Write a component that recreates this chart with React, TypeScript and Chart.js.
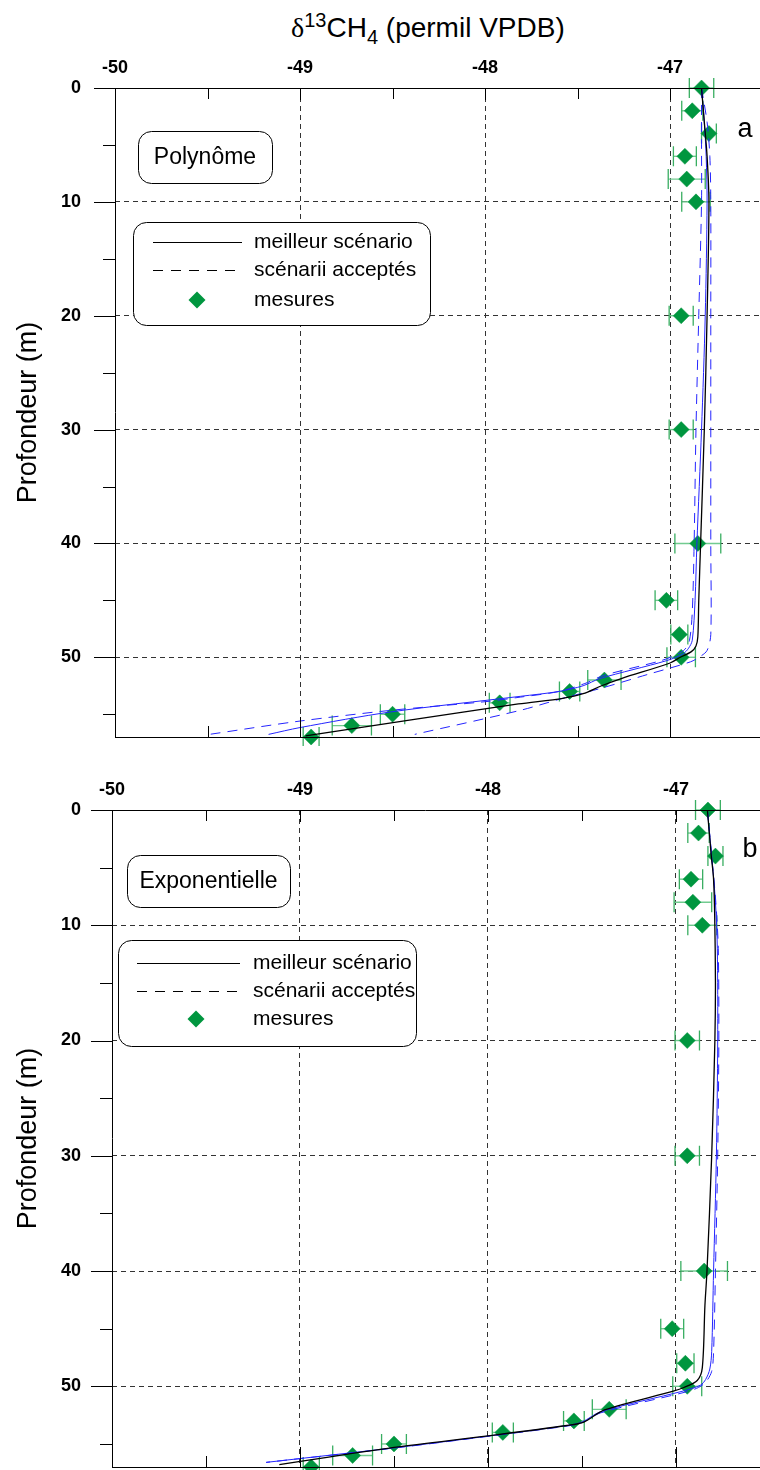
import React, { useEffect, useRef } from "react";
import { Chart, registerables } from "chart.js";

Chart.register(...registerables);

const FONT = "'Liberation Sans', Arial, Helvetica, sans-serif";
Chart.defaults.font.family = FONT;

// ---------- measurements (same in both panels) ----------
const measureDepth = [0, 2, 4, 6, 8, 10, 20, 30, 40, 45, 48, 50, 52, 53, 54, 55, 56, 57];
const measureValue = [-46.83, -46.88, -46.79, -46.92, -46.91, -46.86, -46.94, -46.94, -46.85, -47.02, -46.95, -46.94, -47.355, -47.543, -47.921, -48.5, -48.72, -48.94];
const measureError = [0.066, 0.057, 0.04, 0.062, 0.1, 0.077, 0.065, 0.065, 0.124, 0.061, 0.046, 0.077, 0.09, 0.055, 0.056, 0.066, 0.106, 0.043];

// ---------- panel a : Polynôme ----------
const polyBestDepth = [0, 3, 6, 10, 20, 30, 40, 45, 48.2, 49, 49.5, 50, 50.5, 51.85, 52.5, 53.2, 53.6, 54.1, 55.5, 56.9];
const polyBestValue = [-46.83, -46.815, -46.8, -46.79, -46.8, -46.815, -46.835, -46.845, -46.85, -46.86, -46.885, -46.945, -47.0, -47.26, -47.37, -47.47, -47.58, -47.82, -48.4, -48.97];
const polyAcc1Depth = [0, 3, 6, 10, 20, 30, 40, 45, 48.5, 49.2, 49.7, 50.3, 51.87, 52.5, 53.0, 53.43, 54.8, 56.17, 56.77];
const polyAcc1Value = [-46.83, -46.815, -46.805, -46.8, -46.81, -46.83, -46.855, -46.865, -46.88, -46.9, -46.93, -47.02, -47.38, -47.47, -47.6, -47.81, -48.51, -49.0, -49.17];
const polyAcc2Depth = [0, 5, 10, 20, 30, 40, 46, 48.5, 49.3, 49.8, 50.3, 51.6, 52.3, 53.0, 53.5, 53.9, 54.66, 55.6, 56.77];
const polyAcc2Value = [-46.83, -46.83, -46.83, -46.845, -46.86, -46.87, -46.88, -46.895, -46.92, -46.97, -47.05, -47.36, -47.46, -47.6, -47.81, -48.0, -48.51, -49.0, -49.49];
const polyAcc3Depth = [0, 3, 6, 10, 20, 30, 40, 48, 49.4, 49.96, 50.4, 51.5, 52.75, 53.6, 54.66, 56.77];
const polyAcc3Value = [-46.83, -46.8, -46.785, -46.78, -46.78, -46.78, -46.78, -46.78, -46.8, -46.84, -46.89, -47.12, -47.38, -47.58, -47.81, -48.38];

// ---------- panel b : Exponentielle ----------
const expoBestDepth = [0, 4, 6, 9.2, 15, 20, 30, 40, 43, 48.4, 49.5, 50.1, 50.4, 52.05, 53.1, 53.4, 54.3, 55.3, 56.8];
const expoBestValue = [-46.833, -46.812, -46.8, -46.794, -46.79, -46.793, -46.81, -46.835, -46.846, -46.86, -46.887, -46.958, -47.01, -47.38, -47.49, -47.58, -48.0, -48.5, -49.11];
const expoAcc1Depth = [0, 4, 8, 12, 20, 30, 40, 47, 48.5, 49.4, 49.9, 50.4, 52.2, 53.1, 53.4, 54.3, 55.3, 56.6];
const expoAcc1Value = [-46.833, -46.81, -46.79, -46.78, -46.778, -46.785, -46.8, -46.81, -46.82, -46.842, -46.87, -46.96, -47.4, -47.5, -47.58, -47.99, -48.48, -49.18];
const expoAcc2Depth = [0, 4, 8, 12, 20, 30, 40, 47, 48.7, 49.6, 50.1, 50.5, 52.3, 53.15, 53.45, 54.3, 55.3, 56.6];
const expoAcc2Value = [-46.833, -46.81, -46.788, -46.775, -46.772, -46.778, -46.79, -46.8, -46.81, -46.84, -46.88, -46.95, -47.4, -47.5, -47.58, -47.98, -48.47, -49.18];

// ---------- axes ----------
const xMajorTicks = [-49, -48, -47];
const xMinorTicks = [-49.5, -48.5, -47.5];
const depthMajorTicks = [10, 20, 30, 40, 50];
const depthMinorTicks = [5, 15, 25, 35, 45, 55];
const legendLabels = ["meilleur scénario", "scénarii acceptés", "mesures"];

const GREEN = "#00963f";
const BLUE = "#2424ff";

type Curve = { depth: number[]; value: number[]; color: string; dash: number[]; width: number };

type Layout = {
  canvasTop: number;
  canvasHeight: number;
  areaLeft: number;
  areaTop: number;
  bottomPad: number;
  xMax: number;
  boxLabel: { text: string; x: number; y: number; w: number; h: number };
  legend: { x: number; y: number; w: number; h: number; lx1: number; lx2: number; tx: number; rows: number[]; dx: number };
  letter: { text: string; x: number; y: number };
};

const layoutA: Layout = {
  canvasTop: 0,
  canvasHeight: 746,
  areaLeft: 115,
  areaTop: 88,
  bottomPad: 9,
  xMax: -46.514,
  boxLabel: { text: "Polynôme", x: 138, y: 131, w: 134, h: 52 },
  legend: { x: 133, y: 222, w: 297, h: 103, lx1: 153, lx2: 242, tx: 254, rows: [242, 270, 300], dx: 197 },
  letter: { text: "a", x: 745, y: 130 },
};

const layoutB: Layout = {
  canvasTop: 746,
  canvasHeight: 724,
  areaLeft: 112,
  areaTop: 64,
  bottomPad: 3,
  xMax: -46.553,
  boxLabel: { text: "Exponentielle", x: 127, y: 855, w: 163, h: 52 },
  legend: { x: 118, y: 940, w: 298, h: 106, lx1: 137, lx2: 240, tx: 253, rows: [963, 991, 1019], dx: 196 },
  letter: { text: "b", x: 750, y: 850 },
};

const curvesA: Curve[] = [
  { depth: polyBestDepth, value: polyBestValue, color: "#000", dash: [], width: 1.3 },
  { depth: polyAcc1Depth, value: polyAcc1Value, color: BLUE, dash: [], width: 1 },
  { depth: polyAcc2Depth, value: polyAcc2Value, color: BLUE, dash: [10, 7], width: 1 },
  { depth: polyAcc3Depth, value: polyAcc3Value, color: BLUE, dash: [10, 7], width: 1 },
];

const curvesB: Curve[] = [
  { depth: expoBestDepth, value: expoBestValue, color: "#000", dash: [], width: 1.3 },
  { depth: expoAcc1Depth, value: expoAcc1Value, color: BLUE, dash: [], width: 1 },
  { depth: expoAcc2Depth, value: expoAcc2Value, color: BLUE, dash: [10, 7], width: 1 },
];

function xy(depth: number[], value: number[]) {
  return depth.map((d, i) => ({ x: value[i], y: d }));
}

function roundRect(ctx: CanvasRenderingContext2D, x: number, y: number, w: number, h: number, r: number) {
  ctx.beginPath();
  ctx.moveTo(x + r, y);
  ctx.lineTo(x + w - r, y);
  ctx.arcTo(x + w, y, x + w, y + r, r);
  ctx.lineTo(x + w, y + h - r);
  ctx.arcTo(x + w, y + h, x + w - r, y + h, r);
  ctx.lineTo(x + r, y + h);
  ctx.arcTo(x, y + h, x, y + h - r, r);
  ctx.lineTo(x, y + r);
  ctx.arcTo(x, y, x + r, y, r);
  ctx.closePath();
}

function diamond(ctx: CanvasRenderingContext2D, cx: number, cy: number, r: number) {
  ctx.beginPath();
  ctx.moveTo(cx - r, cy);
  ctx.lineTo(cx, cy - r);
  ctx.lineTo(cx + r, cy);
  ctx.lineTo(cx, cy + r);
  ctx.closePath();
  ctx.fillStyle = GREEN;
  ctx.fill();
}

function makeDecor(L: Layout) {
  const px = (v: number) => Math.round(v) + 0.5;
  return {
    id: "decor",
    beforeDatasetDraw(chart: any, args: any) {
      if (chart.data.datasets[args.index].label !== "mesures") return;
      const { ctx } = chart;
      const xs = chart.scales.x;
      const ys = chart.scales.y;
      ctx.save();
      measureDepth.forEach((d, i) => {
        const py = ys.getPixelForValue(d);
        const x1 = xs.getPixelForValue(measureValue[i] - measureError[i]);
        const x2 = xs.getPixelForValue(measureValue[i] + measureError[i]);
        ctx.strokeStyle = "#72cb90";
        ctx.lineWidth = 1.4;
        ctx.beginPath();
        ctx.moveTo(x1, py);
        ctx.lineTo(x2, py);
        ctx.stroke();
        ctx.strokeStyle = "#3aae62";
        ctx.lineWidth = 1.3;
        ctx.beginPath();
        ctx.moveTo(x1, py - 10);
        ctx.lineTo(x1, py + 10);
        ctx.moveTo(x2, py - 10);
        ctx.lineTo(x2, py + 10);
        ctx.stroke();
      });
      ctx.restore();
    },
    afterDraw(chart: any) {
      const { ctx, chartArea: a } = chart;
      const xs = chart.scales.x;
      const ys = chart.scales.y;
      const off = L.canvasTop;
      ctx.save();
      ctx.setLineDash([]);
      ctx.strokeStyle = "#000";
      ctx.lineWidth = 1;
      const line = (x1: number, y1: number, x2: number, y2: number) => {
        ctx.beginPath();
        ctx.moveTo(x1, y1);
        ctx.lineTo(x2, y2);
        ctx.stroke();
      };
      const top = px(a.top);
      const bottom = px(a.bottom);
      const left = px(a.left);
      line(a.left - 21, top, a.right, top);
      line(left, a.top, left, a.bottom);
      line(a.left, bottom, a.right, bottom);
      depthMajorTicks.forEach((v) => {
        const y = px(ys.getPixelForValue(v));
        line(a.left - 21, y, a.left, y);
      });
      depthMinorTicks.forEach((v) => {
        const y = px(ys.getPixelForValue(v));
        line(a.left - 12, y, a.left, y);
      });
      xMajorTicks.forEach((v) => {
        const x = px(xs.getPixelForValue(v));
        line(x, a.top, x, a.top + 12);
        line(x, a.bottom, x, a.bottom - 20);
      });
      xMinorTicks.forEach((v) => {
        const x = px(xs.getPixelForValue(v));
        line(x, a.top, x, a.top + 11);
        line(x, a.bottom, x, a.bottom - 11);
      });

      // model label box
      const b = L.boxLabel;
      ctx.fillStyle = "#fff";
      roundRect(ctx, b.x + 0.5, b.y - off + 0.5, b.w, b.h, 13);
      ctx.fill();
      ctx.stroke();
      ctx.fillStyle = "#000";
      ctx.font = `23px ${FONT}`;
      ctx.textAlign = "center";
      ctx.textBaseline = "middle";
      ctx.fillText(b.text, b.x + b.w / 2, b.y - off + b.h / 2 + 1);

      // legend
      const g = L.legend;
      ctx.fillStyle = "#fff";
      roundRect(ctx, g.x + 0.5, g.y - off + 0.5, g.w, g.h, 13);
      ctx.fill();
      ctx.stroke();
      ctx.lineWidth = 1;
      line(g.lx1, px(g.rows[0] - off), g.lx2, px(g.rows[0] - off));
      ctx.setLineDash([10, 8]);
      line(g.lx1, px(g.rows[1] - off), g.lx2, px(g.rows[1] - off));
      ctx.setLineDash([]);
      diamond(ctx, g.dx, g.rows[2] - off, 8.5);
      ctx.fillStyle = "#000";
      ctx.font = `21px ${FONT}`;
      ctx.textAlign = "left";
      ctx.textBaseline = "middle";
      legendLabels.forEach((t, i) => ctx.fillText(t, g.tx, g.rows[i] - off));

      // letter
      ctx.font = `27px ${FONT}`;
      ctx.textAlign = "center";
      ctx.fillText(L.letter.text, L.letter.x, L.letter.y - off);
      ctx.restore();
    },
  };
}

function Panel({ L, curves }: { L: Layout; curves: Curve[] }) {
  const ref = useRef<HTMLCanvasElement>(null);
  useEffect(() => {
    const canvas = ref.current;
    if (!canvas) return;
    const datasets: any[] = curves.map((c) => ({
      label: "curve",
      data: xy(c.depth, c.value),
      borderColor: c.color,
      borderWidth: c.width,
      borderDash: c.dash,
      pointRadius: 0,
      tension: 0.3,
      fill: false,
    }));
    datasets.push({
      label: "mesures",
      data: xy(measureDepth, measureValue),
      showLine: false,
      pointStyle: "rectRot",
      pointRadius: 8,
      backgroundColor: GREEN,
      borderColor: GREEN,
      borderWidth: 0.5,
      clip: false,
    });
    const tickFont = { size: 18, weight: "bold" as const, family: FONT };
    const chart = new Chart(canvas, {
      type: "line",
      data: { datasets },
      options: {
        animation: false,
        responsive: false,
        maintainAspectRatio: false,
        layout: { autoPadding: false, padding: { left: 0, right: 0, top: 0, bottom: L.bottomPad } },
        plugins: { legend: { display: false }, tooltip: { enabled: false }, title: { display: false } },
        scales: {
          x: {
            type: "linear",
            position: "top",
            min: -50,
            max: L.xMax,
            ticks: { stepSize: 1, includeBounds: false, font: tickFont, color: "#000", padding: 9 },
            grid: {
              drawTicks: false,
              color: (c: any) => (c.tick && c.tick.value === -50 ? "rgba(0,0,0,0)" : "#333"),
              lineWidth: 1,
            },
            border: { display: false, dash: [5, 4] },
            afterFit: (s: any) => {
              s.height = L.areaTop;
              s.paddingLeft = 0;
              s.paddingRight = 0;
            },
          },
          y: {
            type: "linear",
            reverse: true,
            min: 0,
            max: 57,
            ticks: { stepSize: 10, includeBounds: false, font: tickFont, color: "#000", padding: L.areaLeft - 81 },
            grid: {
              drawTicks: false,
              color: (c: any) => (c.tick && c.tick.value === 0 ? "rgba(0,0,0,0)" : "#333"),
              lineWidth: 1,
            },
            border: { display: false, dash: [5, 4] },
            title: {
              display: true,
              text: "Profondeur (m)",
              color: "#000",
              font: { size: 27, family: FONT },
              padding: { top: 12, bottom: 0 },
            },
            afterFit: (s: any) => {
              s.width = L.areaLeft;
              s.paddingTop = 0;
              s.paddingBottom = 0;
            },
          },
        },
      } as any,
      plugins: [makeDecor(L)],
    });
    return () => chart.destroy();
  }, []);
  return (
    <canvas
      ref={ref}
      width={760}
      height={L.canvasHeight}
      style={{ position: "absolute", left: 0, top: L.canvasTop, width: 760, height: L.canvasHeight }}
    />
  );
}

export default function App() {
  return (
    <div style={{ position: "absolute", left: 0, top: 0, width: 760, height: 1470, overflow: "hidden", background: "#fff" }}>
      <div
        style={{
          position: "absolute",
          left: 291,
          top: 14,
          fontFamily: FONT,
          fontSize: 28,
          lineHeight: "28px",
          whiteSpace: "nowrap",
          color: "#000",
        }}
      >
        <span style={{ fontFamily: "'Liberation Serif', 'DejaVu Serif', serif" }}>δ</span>
        <span style={{ fontSize: 20, position: "relative", top: -10 }}>13</span>
        <span>CH</span>
        <span style={{ fontSize: 20, position: "relative", top: 7 }}>4</span>
        <span> (permil VPDB)</span>
      </div>
      <Panel L={layoutA} curves={curvesA} />
      <Panel L={layoutB} curves={curvesB} />
    </div>
  );
}
